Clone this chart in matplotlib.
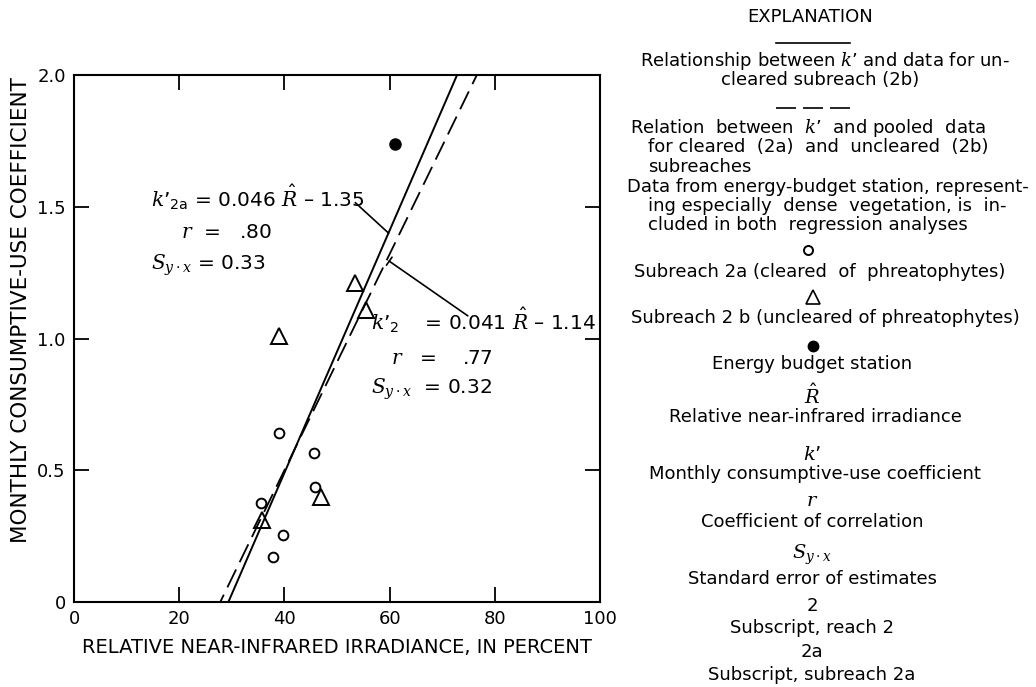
import numpy as np
import matplotlib
matplotlib.use("Agg")
import matplotlib.pyplot as plt
from matplotlib.lines import Line2D

plt.rcParams['font.family'] = ['DejaVu Sans']
plt.rcParams['mathtext.fontset'] = 'custom'
plt.rcParams['mathtext.it'] = 'DejaVu Serif:italic'
plt.rcParams['mathtext.rm'] = 'DejaVu Sans'
plt.rcParams['mathtext.sf'] = 'DejaVu Sans'

# subreach 2a (cleared)
r_2a = [39.0, 45.6, 45.8, 35.5, 39.7, 37.8]
k_2a = [0.64, 0.565, 0.435, 0.375, 0.255, 0.17]
# subreach 2b (uncleared)
r_2b = [53.5, 55.6, 38.9, 35.7, 46.9]
k_2b = [1.21, 1.11, 1.01, 0.31, 0.40]
# energy budget station
r_eb = [61.0]
k_eb = [1.74]

# regression lines: k' = slope * R - intercept
slope_2a, icpt_2a = 0.046, 1.35
slope_2, icpt_2 = 0.041, 1.14

x_ticks = [0, 20, 40, 60, 80, 100]
y_ticks = [0, 0.5, 1.0, 1.5, 2.0]
y_ticklabels = ['0', '0.5', '1.0', '1.5', '2.0']

W, H = 1036, 687
fig = plt.figure(figsize=(W / 100, H / 100), dpi=100)
ax = fig.add_axes([74 / W, 1 - 602 / H, 526 / W, 527 / H])

R = np.linspace(0, 100, 401)
ax.plot(R, slope_2a * R - icpt_2a, color='black', lw=1.4)
ax.plot(R, slope_2 * R - icpt_2, color='black', lw=1.3, dashes=(11, 4.5))

ax.plot(r_2a, k_2a, 'o', ms=7, mfc='white', mec='black', mew=1.4)
ax.plot(r_2b, k_2b, '^', ms=11, mfc='none', mec='black', mew=1.4)
ax.plot(r_eb, k_eb, 'o', ms=8, color='black')

ax.set_xlim(0, 100)
ax.set_ylim(0, 2.0)
ax.set_xticks(x_ticks)
ax.set_yticks(y_ticks)
ax.set_yticklabels(y_ticklabels)
ax.tick_params(direction='in', length=11, width=1.3, top=True, right=True,
               labelsize=13, pad=6)
for s in ax.spines.values():
    s.set_linewidth(1.5)

ax.set_xlabel('RELATIVE NEAR-INFRARED IRRADIANCE, IN PERCENT', fontsize=14, labelpad=7)
ax.set_ylabel('MONTHLY CONSUMPTIVE-USE COEFFICIENT', fontsize=15.5)
ax.yaxis.set_label_coords(-0.082, 0.554)

# k' with a visible apostrophe
KP = r"k\mathsf{’}"

# equation labels
eq_fs = 14.5
ax.text(14.6, 1.50, r"$" + KP + r"_{\mathsf{2a}}$" + r" = 0.046 $\hat{R}$ – 1.35", fontsize=eq_fs, va='baseline')
ax.text(20.3, 1.38, r"$r$  =   .80", fontsize=eq_fs, va='baseline')
ax.text(14.6, 1.26, r"$S_{y\cdot x}$ = 0.33", fontsize=eq_fs, va='baseline')
ax.text(56.5, 1.035, r"$" + KP + r"_{\mathsf{2}}$" + r"    = 0.041 $\hat{R}$ – 1.14", fontsize=eq_fs, va='baseline')
ax.text(60.3, 0.905, r"$r$   =    .77", fontsize=eq_fs, va='baseline')
ax.text(56.5, 0.79, r"$S_{y\cdot x}$  = 0.32", fontsize=eq_fs, va='baseline')

# leaders from the labels to the lines
ax.plot([53.5, 59.8], [1.515, 1.4], color='black', lw=1.2)
x0 = 59.5
ax.annotate('', xy=(x0, slope_2 * x0 - icpt_2), xytext=(75.3, 1.08),
            arrowprops=dict(arrowstyle='-[, widthB=0.35, lengthB=0', color='black', lw=1.2))


def ftext(px, py, s, ha='center', fs=13, **kw):
    fig.text(px / W, 1 - py / H, s, ha=ha, va='center', fontsize=fs, **kw)


def fline(x0, x1, py, **kw):
    fig.add_artist(Line2D([x0 / W, x1 / W], [1 - py / H, 1 - py / H],
                          transform=fig.transFigure, color='black', **kw))


def fmark(px, py, **kw):
    fig.add_artist(Line2D([px / W], [1 - py / H], transform=fig.transFigure, ls='none', **kw))


# explanation
ftext(810, 17, 'EXPLANATION', fs=13)
fline(776, 850, 43, lw=1.2)
ftext(825, 61, r"Relationship between $" + KP + r"$ and data for un-")
ftext(820, 80, 'cleared subreach (2b)')
fline(776, 850, 108, lw=1.2, dashes=(12, 4.2))
ftext(630, 128, r"Relation  between  $" + KP + r"$  and pooled  data", ha='left')
ftext(648, 147, 'for cleared  (2a)  and  uncleared  (2b)', ha='left')
ftext(648, 167, 'subreaches', ha='left')
ftext(627, 187, 'Data from energy-budget station, represent-', ha='left')
ftext(648, 206, 'ing especially  dense  vegetation, is  in-', ha='left')
ftext(648, 225, 'cluded in both  regression analyses', ha='left')
fmark(808, 250, marker='o', ms=6.5, mfc='white', mec='black', mew=1.4)
ftext(820, 272, 'Subreach 2a (cleared  of  phreatophytes)')
fmark(813, 297, marker='^', ms=10, mfc='none', mec='black', mew=1.2)
ftext(825, 318, 'Subreach 2 b (uncleared of phreatophytes)')
fmark(813, 346, marker='o', ms=7.5, color='black')
ftext(812, 364, 'Energy budget station')
ftext(812, 396, r'$\hat{R}$', fs=14)
ftext(815, 417, 'Relative near-infrared irradiance')
ftext(812, 455, r"$" + KP + r"$", fs=14)
ftext(815, 474, 'Monthly consumptive-use coefficient')
ftext(812, 500, r'$r$', fs=14)
ftext(812, 522, 'Coefficient of correlation')
ftext(812, 555, r'$S_{y\cdot x}$', fs=14)
ftext(812, 579, 'Standard error of estimates')
ftext(812, 606, '2')
ftext(812, 628, 'Subscript, reach 2')
ftext(812, 652, '2a')
ftext(812, 675, 'Subscript, subreach 2a')

fig.savefig('out.png', dpi=100)
